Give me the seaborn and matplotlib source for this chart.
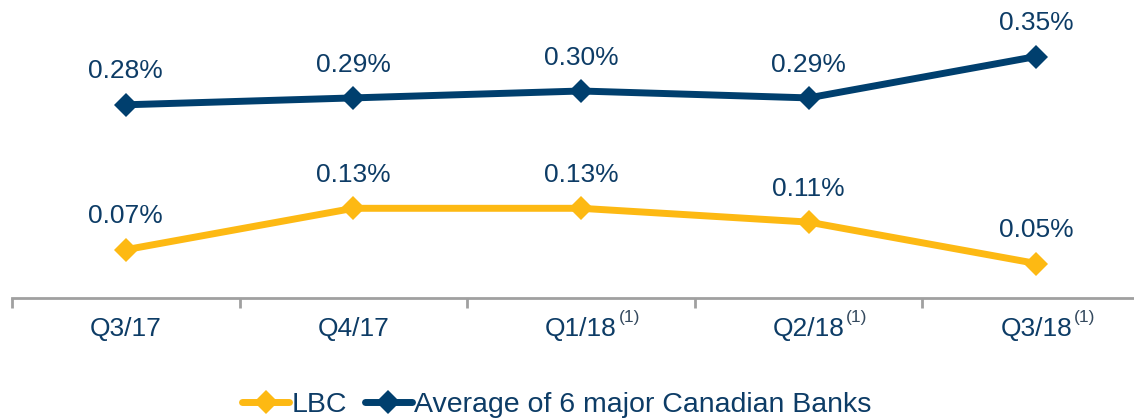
import numpy as np
import pandas as pd
import matplotlib
matplotlib.use('Agg')
import matplotlib.pyplot as plt
import seaborn as sns

quarters = ['Q3/17', 'Q4/17', 'Q1/18', 'Q2/18', 'Q3/18']
footnotes = ['', '', '(1)', '(1)', '(1)']
lbc = [0.07, 0.13, 0.13, 0.11, 0.05]
banks = [0.28, 0.29, 0.30, 0.29, 0.35]
series_names = ['LBC', 'Average of 6 major Canadian Banks']

gold = '#FDB913'
navy = '#003F6E'
text_color = '#0D3C66'
axis_gray = '#A0A0A0'

df = pd.DataFrame({
    'quarter': quarters * 2,
    'value': lbc + banks,
    'series': [series_names[0]] * 5 + [series_names[1]] * 5,
})

sns.set_style('white')
plt.rcParams['font.family'] = ['Liberation Sans', 'DejaVu Sans']

fig = plt.figure(figsize=(11.34, 4.2), dpi=100)
ax = fig.add_axes([12 / 1134, 122 / 420, 1138 / 1134, 276 / 420])

sns.lineplot(data=df, x='quarter', y='value', hue='series', style='series',
             palette={series_names[0]: gold, series_names[1]: navy},
             markers={series_names[0]: 'D', series_names[1]: 'D'}, dashes=False,
             linewidth=5, markersize=12, markeredgewidth=0, ax=ax, sort=False)

# value labels
for vals in (lbc, banks):
    for i, v in enumerate(vals):
        ax.annotate('{:.2f}%'.format(v), (i, v), xytext=(0, 24), textcoords='offset points',
                    ha='center', va='center', fontsize=19, color=text_color)

ax.set_xlim(-0.5, 4.5)
ax.set_ylim(0, 0.40)
ax.set_xticks(np.arange(-0.5, 5, 1.0))
ax.set_xticklabels([])
ax.set_xticks(np.arange(5), minor=True)
ax.set_xticklabels(quarters, minor=True, fontsize=19, color=text_color)
ax.tick_params(axis='x', which='major', direction='out', length=7, width=2, color=axis_gray, bottom=True)
ax.tick_params(axis='x', which='minor', length=0, pad=14)

# footnote superscripts next to tick labels
for i, f in enumerate(footnotes):
    if f:
        ax.annotate(f, (i, 0), xycoords=('data', 'axes fraction'), xytext=(27, -14),
                    textcoords='offset points', ha='left', va='center', fontsize=12.5,
                    color='#34495E')

ax.set_yticks([])
ax.set_xlabel('')
ax.set_ylabel('')
for s in ['top', 'right', 'left']:
    ax.spines[s].set_visible(False)
ax.spines['bottom'].set_color(axis_gray)
ax.spines['bottom'].set_linewidth(2)

handles, labels = ax.get_legend_handles_labels()
ax.legend(handles, labels, loc='center', bbox_to_anchor=(557 / 1134, 1 - 405 / 420),
          bbox_transform=fig.transFigure, ncol=2, frameon=False, fontsize=20.5,
          handlelength=1.65, handletextpad=0.1, columnspacing=0.6, labelcolor=text_color)

fig.savefig('out.png', dpi=100)
